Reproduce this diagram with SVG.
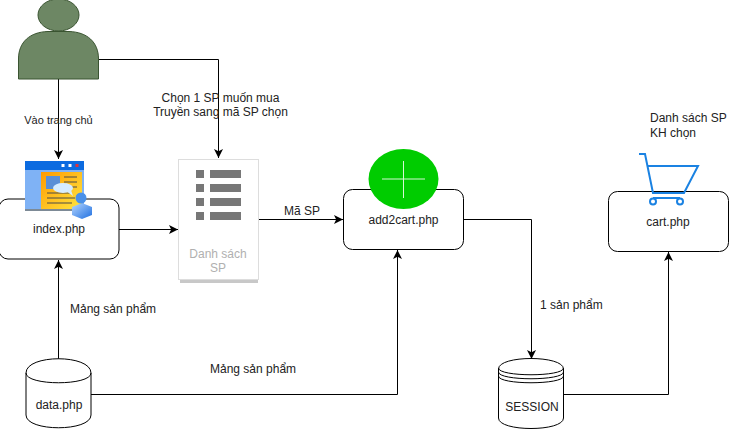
<svg xmlns="http://www.w3.org/2000/svg" width="737" height="429" viewBox="0 0 737 429">
<defs>
<marker id="arr" markerUnits="userSpaceOnUse" markerWidth="12" markerHeight="12" refX="9" refY="5" orient="auto"><path d="M0 0.5L9 5L0 9.5L2.2 5Z" fill="#000"/></marker>
<linearGradient id="pg" x1="0" y1="0" x2="1" y2="1"><stop offset="0" stop-color="#ff9a00"/><stop offset="1" stop-color="#ffe640"/></linearGradient>
<linearGradient id="ug" x1="0" y1="0" x2="1" y2="1"><stop offset="0" stop-color="#b5d6ff"/><stop offset="1" stop-color="#1f6fe0"/></linearGradient>
</defs>
<style>
text{font-family:"Liberation Sans",Arial,sans-serif;font-size:12px;fill:#222}
.c{text-anchor:middle}
.box{fill:#fff;stroke:#000;stroke-width:1}
.line{fill:none;stroke:#000;stroke-width:1;marker-end:url(#arr)}
.plain{fill:none;stroke:#000;stroke-width:1}
.db{fill:#fff;stroke:#000;stroke-width:1}
.bar{fill:#777}
.il{stroke:#4a4a4a;stroke-width:1}
.cart{fill:none;stroke:#1a82e2;stroke-width:2}
</style>
<rect width="737" height="429" fill="#fff"/>
<g id="connectors">
<path class="line" d="M58.5 79V159"/>
<path class="line" d="M98.5 59.500H218.500V158"/>
<path class="line" d="M119 229.500H178"/>
<path class="line" d="M259 219.500H343"/>
<path class="line" d="M58.500 359V260"/>
<path class="line" d="M91 394.500H397.500V250"/>
<path class="line" d="M464 219.500H531.500V359"/>
<path class="line" d="M563 394.500H668.500V252"/>
</g>
<g id="person"><ellipse cx="58.500" cy="15" rx="20.500" ry="16" fill="#6d8764" stroke="#3a5431"/><path d="M18.500 79V59C18.500 42 30 32 48 31.500H69C87 32 98.500 42 98.500 59V79Z" fill="#6d8764" stroke="#3a5431"/></g>
<g id="index"><rect class="box" x="-1" y="199" width="120" height="60" rx="9"/>
<rect x="25" y="161" width="59" height="50" fill="#7fb2f5"/><rect x="25" y="161" width="59" height="9" fill="#0c6be0"/><rect x="41" y="172" width="41" height="37" fill="url(#pg)"/><rect x="25" y="209" width="59" height="2" fill="#7d8a96"/>
<rect x="61.500" y="164" width="3" height="3" fill="#fff"/><rect x="68.500" y="164" width="3" height="3" fill="#fff"/><rect x="75.500" y="164" width="3" height="3" fill="#e0303a"/>
<rect x="46" y="176" width="14" height="13" fill="#5b8fd6"/>
<path class="il" d="M64 177H77M64 182H77M64 187H77M47 193H70M47 198H75M47 203H72"/>
<ellipse cx="63" cy="188" rx="10" ry="5" fill="#d6ecff"/><path d="M66 191L73 196L71 190Z" fill="#d6ecff"/>
<path d="M72 207L82 203L92 207V215L82 219L72 215Z" fill="url(#ug)"/><circle cx="81" cy="198" r="5.500" fill="#4a90e8"/>
<text class="c" x="59" y="233">index.php</text></g>
<g id="danhsach"><rect x="180" y="163" width="78" height="120" fill="#c8c8c8"/><rect x="178.500" y="159.500" width="80" height="120" fill="#fff" stroke="#ddd"/>
<rect class="bar" x="196" y="170" width="8" height="8"/><rect class="bar" x="210" y="170" width="31" height="8"/>
<rect class="bar" x="196" y="184" width="8" height="8"/><rect class="bar" x="210" y="184" width="31" height="8"/>
<rect class="bar" x="196" y="198" width="8" height="8"/><rect class="bar" x="210" y="198" width="31" height="8"/>
<rect class="bar" x="196" y="212" width="8" height="8"/><rect class="bar" x="210" y="212" width="31" height="8"/>
<text class="c" x="218" y="258" style="fill:#b0b0b0">Danh sách</text><text class="c" x="218" y="272" style="fill:#b0b0b0">SP</text></g>
<g id="add2cart"><rect class="box" x="343.500" y="189.500" width="120" height="60" rx="9"/><ellipse cx="403.500" cy="179" rx="35" ry="30" fill="#00cc00"/><path d="M382 179H425M403.500 161V198" stroke="#d5f7d5" stroke-width="1"/><text class="c" x="403.500" y="224">add2cart.php</text></g>
<g id="cart-php"><rect class="box" x="608.500" y="191.500" width="120" height="60" rx="9"/>
<path class="cart" d="M639 154H645L653 193H684L698 166H647"/><path class="cart" d="M653 198H680"/><circle class="cart" cx="653" cy="201.500" r="3" fill="#fff"/><circle class="cart" cx="680" cy="201.500" r="3" fill="#fff"/>
<text class="c" x="668" y="226">cart.php</text></g>
<g id="session"><path class="db" d="M498.500 369C498.500 355 563.500 355 563.500 369V418C563.500 432 498.500 432 498.500 418Z"/><path class="plain" d="M498.500 368C498.500 377 563.500 377 563.500 368M498.500 372C498.500 381 563.500 381 563.500 372M498.500 376C498.500 385 563.500 385 563.500 376"/><text class="c" x="532" y="411">SESSION</text></g>
<g id="data"><path class="db" d="M26 373C26 354 91 354 91 373V415C91 432 26 432 26 415Z"/><path class="plain" d="M26 373C26 386 91 386 91 373"/><text class="c" x="59" y="409">data.php</text></g>
<g id="labels">
<text class="c" x="58.500" y="124" style="font-size:11px">Vào trang chủ</text>
<text class="c" x="220.500" y="102">Chọn 1 SP muốn mua</text><text class="c" x="220.500" y="116">Truyền sang mã SP chọn</text>
<text x="284" y="215">Mã SP</text>
<text x="70" y="313">Mảng sản phẩm</text>
<text x="210" y="373">Mảng sản phẩm</text>
<text x="540" y="309">1 sản phẩm</text>
<text x="650" y="122">Danh sách SP</text><text x="650" y="137">KH chọn</text>
</g>
</svg>
